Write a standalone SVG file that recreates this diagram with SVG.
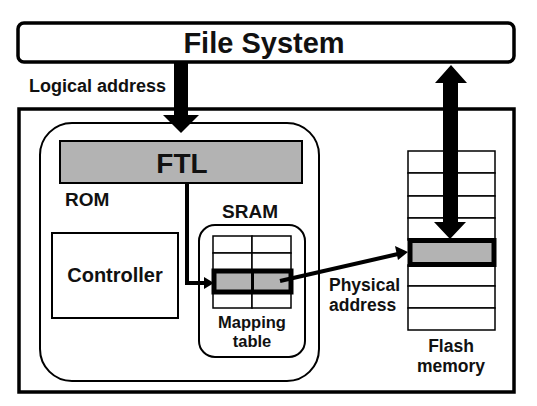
<svg xmlns="http://www.w3.org/2000/svg" width="537" height="406" viewBox="0 0 537 406">
<defs>
<style>
text{font-family:"Liberation Sans","Open Sans","DejaVu Sans",sans-serif;font-weight:bold;fill:#111}
.box{fill:#fff;stroke:#000}
.cell{fill:#fff;stroke:#000;stroke-width:1.5}
.hl{fill:#b3b3b3;stroke:#000;stroke-width:5}
.conn{fill:none;stroke:#000;stroke-width:4}
</style>
</defs>
<rect width="537" height="406" fill="#fff"/>
<g id="filesystem">
<rect class="box" x="18" y="23" width="496" height="39" rx="6" stroke-width="3.5"/>
<text x="264" y="53" font-size="29" text-anchor="middle">File System</text>
</g>
<g id="device">
<rect class="box" x="19" y="109" width="495" height="283" stroke-width="3.5"/>
</g>
<g id="rom">
<rect class="box" x="40" y="123" width="279" height="258" rx="32" stroke-width="2"/>
<text x="65" y="206" font-size="19">ROM</text>
</g>
<g id="ftl">
<rect x="60" y="141" width="242" height="42" fill="#b3b3b3" stroke="#000" stroke-width="2"/>
<text x="182" y="173" font-size="28" text-anchor="middle">FTL</text>
</g>
<g id="controller">
<rect class="box" x="52" y="233" width="126" height="85" stroke-width="2"/>
<text x="115" y="282" font-size="20" text-anchor="middle">Controller</text>
</g>
<g id="sram">
<text x="250" y="218" font-size="19" text-anchor="middle">SRAM</text>
<rect class="box" x="199" y="225" width="106" height="132" rx="16" stroke-width="2"/>
</g>
<g id="mapping-table">
<rect class="cell" x="213" y="236" width="39" height="17"/>
<rect class="cell" x="252" y="236" width="39" height="17"/>
<rect class="cell" x="213" y="253" width="39" height="17"/>
<rect class="cell" x="252" y="253" width="39" height="17"/>
<rect class="cell" x="213" y="292" width="39" height="16"/>
<rect class="cell" x="252" y="292" width="39" height="16"/>
<rect class="hl" x="214" y="271" width="77" height="21"/>
<line x1="252.5" y1="271" x2="252.5" y2="292" stroke="#000" stroke-width="3"/>
<text x="252" y="328" font-size="16.5" text-anchor="middle">Mapping</text>
<text x="252" y="347" font-size="16.5" text-anchor="middle">table</text>
</g>
<g id="flash-memory">
<rect class="cell" x="408" y="151" width="87" height="22"/>
<rect class="cell" x="408" y="173" width="87" height="23"/>
<rect class="cell" x="408" y="196" width="87" height="22"/>
<rect class="cell" x="408" y="218" width="87" height="22"/>
<rect class="cell" x="408" y="265" width="87" height="21"/>
<rect class="cell" x="408" y="286" width="87" height="22"/>
<rect class="cell" x="408" y="308" width="87" height="22"/>
<rect class="hl" x="410" y="240.5" width="84" height="24"/>
<text x="451" y="352" font-size="17.5" text-anchor="middle">Flash</text>
<text x="451" y="372" font-size="17.5" text-anchor="middle">memory</text>
</g>
<g id="connectors">
<polyline class="conn" points="187,183 187,283 206,283" />
<path d="M204,277 L214,283 L204,289 z" fill="#000"/>
<line class="conn" x1="280" y1="281" x2="398" y2="254"/>
<path d="M395,246 L408,252 L398,260 z" fill="#000"/>
<path d="M174,63 H188 V115 H199 L181,133 L163,115 H174 z" fill="#000"/>
<path d="M451,65 L467,83 H458 V222 H466 L450,239 L434,222 H443 V83 H435 z" fill="#000"/>
</g>
<g id="labels">
<text x="29" y="92" font-size="18">Logical address</text>
<text x="329" y="291" font-size="17.5">Physical</text>
<text x="329" y="310.5" font-size="17.5">address</text>
</g>
</svg>
